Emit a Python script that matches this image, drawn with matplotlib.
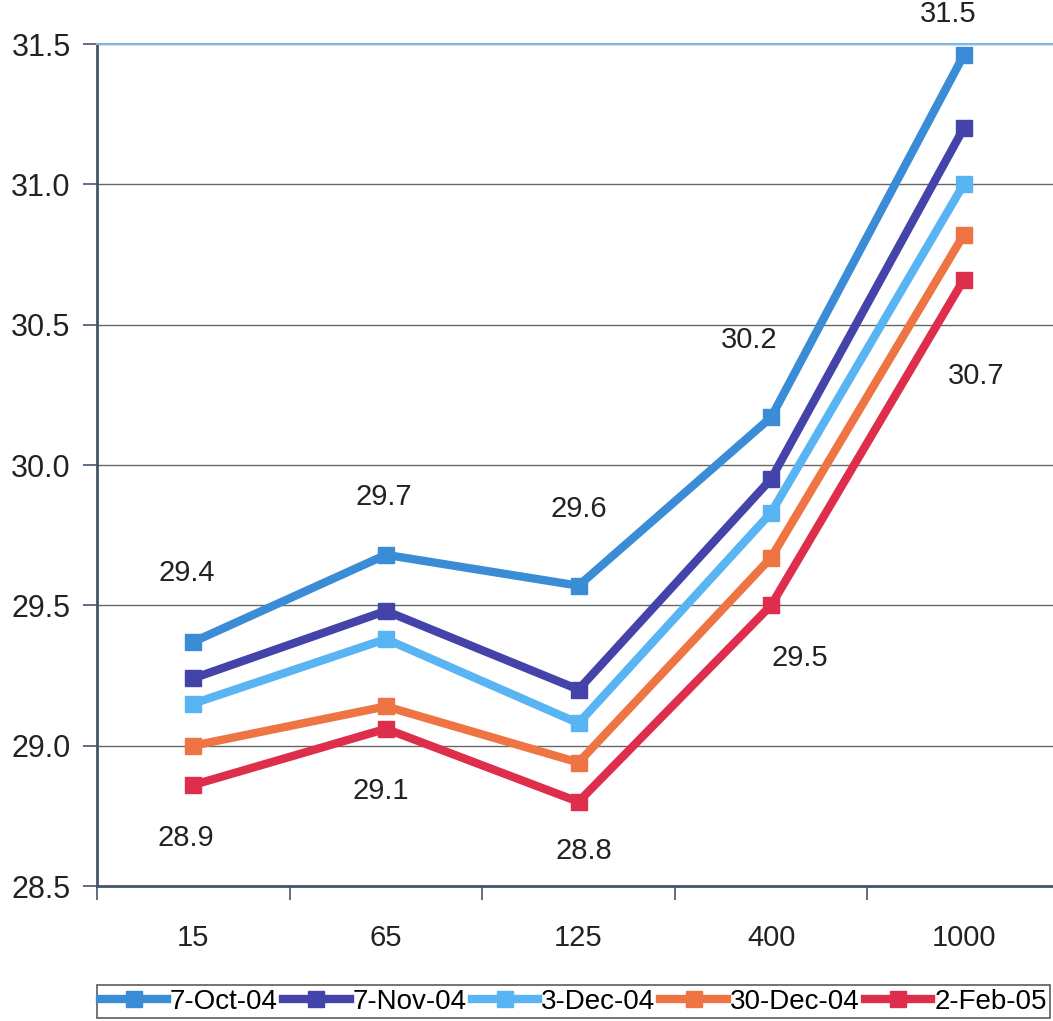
import numpy as np
import matplotlib
matplotlib.use("Agg")
import matplotlib.pyplot as plt

plt.rcParams['font.family'] = ['Liberation Sans', 'DejaVu Sans']

# 카테고리 및 시리즈 데이터
categories = ['15', '65', '125', '400', '1000']
series_names = ['7-Oct-04', '7-Nov-04', '3-Dec-04', '30-Dec-04', '2-Feb-05']
oct_07 = [29.37, 29.68, 29.57, 30.17, 31.46]
nov_07 = [29.24, 29.48, 29.20, 29.95, 31.20]
dec_03 = [29.15, 29.38, 29.08, 29.83, 31.00]
dec_30 = [29.00, 29.14, 28.94, 29.67, 30.82]
feb_02 = [28.86, 29.06, 28.80, 29.50, 30.66]
colors = ['#3A8CD6', '#4343AA', '#58B4F2', '#EE7444', '#DE2E4C']

# 데이터 라벨: (시리즈 번호, 카테고리 번호, x 오프셋 px, y 오프셋 px)
data_labels = [
    (0, 0, -7, 69), (0, 1, -2, 58), (0, 2, 0, 77), (0, 3, -22, 77), (0, 4, -16, 41),
    (4, 0, -7, -53), (4, 1, -5, -62), (4, 2, 5, -49), (4, 3, 29, -53), (4, 4, 12, -96),
]

all_series = [oct_07, nov_07, dec_03, dec_30, feb_02]
x = np.arange(len(categories))

fig = plt.figure(figsize=(10.53, 10.21), dpi=100)
ax = fig.add_axes([97 / 1053, 135 / 1021, 963 / 1053, 842 / 1021])

for name, vals, c in zip(series_names, all_series, colors):
    ax.plot(x, vals, color=c, lw=6, marker='s', ms=12, mec=c, mfc=c,
            solid_joinstyle='miter', label=name, zorder=3)

for si, ci, dx, dy in data_labels:
    v = all_series[si][ci]
    ax.annotate(f"{v:.1f}", (x[ci], v), xytext=(dx, dy), textcoords='offset pixels',
                ha='center', va='center', fontsize=21, color='#222222')

ax.set_xlim(-0.5, 4.5)
ax.set_ylim(28.5, 31.5)
ax.set_yticks(np.arange(28.5, 31.51, 0.5))
ax.set_yticklabels([f"{v:.1f}" for v in np.arange(28.5, 31.51, 0.5)])
ax.set_xticks(x)
ax.set_xticklabels(categories)
ax.set_xticks(np.arange(-0.5, 4.6, 1), minor=True)

ax.tick_params(axis='y', direction='out', length=10, width=1.2, color='#44556a',
               pad=9, labelsize=22, labelcolor='#222222')
ax.tick_params(axis='x', which='major', length=0, pad=27, labelsize=21, labelcolor='#222222')
ax.tick_params(axis='x', which='minor', direction='out', length=10, width=1.2, color='#44556a')

# 가로 눈금선
ax.yaxis.grid(True, color='#666666', lw=1.0)
ax.set_axisbelow(True)

for s in ['left', 'bottom']:
    ax.spines[s].set_color('#44556a')
    ax.spines[s].set_linewidth(2)
ax.spines['top'].set_color('#7DB8E6')
ax.spines['top'].set_linewidth(1.5)
ax.spines['right'].set_visible(False)

leg = fig.legend(loc='lower left', bbox_to_anchor=(97 / 1053, 3 / 1021, 953 / 1053, 34 / 1021),
                 mode='expand', ncol=5, fontsize=20, frameon=True, fancybox=False,
                 handlelength=2.4, handletextpad=0.1, columnspacing=0.4,
                 borderpad=0.12, borderaxespad=0)
leg.get_frame().set_edgecolor('#333333')
leg.get_frame().set_linewidth(1.2)

fig.savefig('out.png', dpi=100, facecolor='white')
